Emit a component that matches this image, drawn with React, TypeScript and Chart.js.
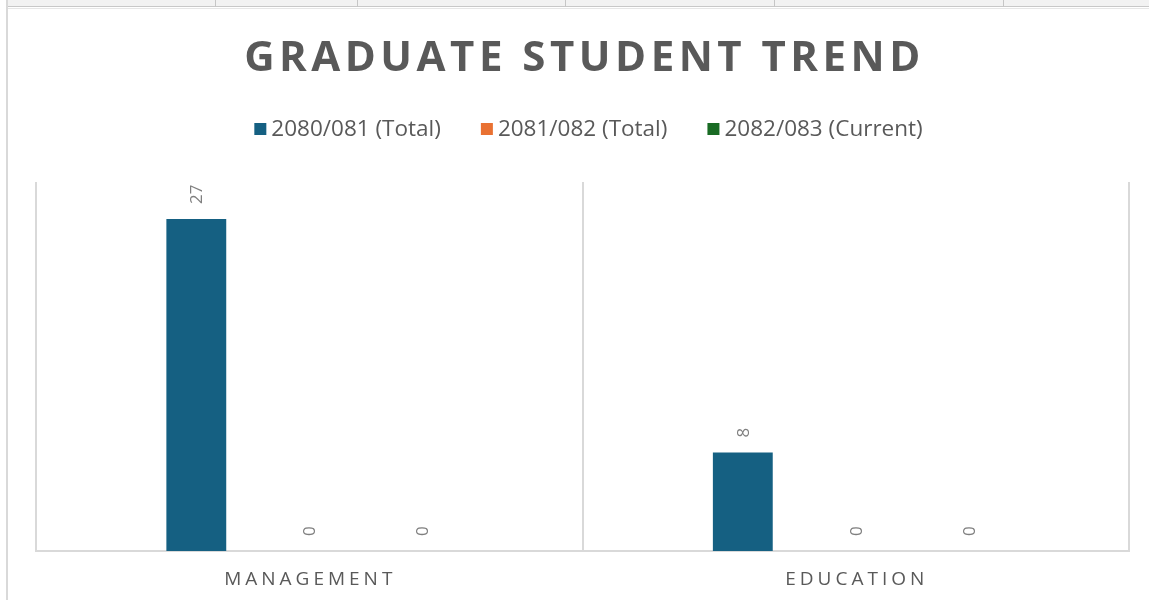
import React, { useEffect, useRef } from "react";
import { Chart, registerables } from "chart.js";

Chart.register(...registerables);

const chartTitle = "GRADUATE STUDENT TREND";
const categories = ["MANAGEMENT", "EDUCATION"];
const seriesLabels = ["2080/081 (Total)", "2081/082 (Total)", "2082/083 (Current)"];
const series2080 = [27, 8];
const series2081 = [0, 0];
const series2082 = [0, 0];
const seriesColors = ["#156082", "#E97132", "#196B24"];
const yMin = 0;
const yMax = 30;

const FONT = "'Open Sans', 'DejaVu Sans', sans-serif";
const TEXT = "#595959";
const LABEL = "#7f7f7f";
const GRID = "#d9d9d9";

const overlayPlugin = {
  id: "overlay",
  afterDraw(chart: any) {
    const ctx = chart.ctx as CanvasRenderingContext2D;
    const area = chart.chartArea;
    const cx = (area.left + area.right) / 2;
    ctx.save();

    // Title (letter-spaced)
    ctx.font = `bold 42px ${FONT}`;
    (ctx as any).letterSpacing = "4.5px";
    ctx.fillStyle = TEXT;
    ctx.textAlign = "center";
    ctx.textBaseline = "middle";
    ctx.fillText(chartTitle, cx + 2, 50);

    // Legend
    (ctx as any).letterSpacing = "0px";
    ctx.font = `22.5px ${FONT}`;
    const box = 12;
    const boxGap = 5;
    const itemGap = 40;
    const ds = chart.data.datasets;
    const widths = ds.map((d: any) => box + boxGap + ctx.measureText(d.label).width);
    const total = widths.reduce((a: number, b: number) => a + b, 0) + itemGap * (ds.length - 1);
    let x = cx + 6 - total / 2;
    const ly = 120;
    ds.forEach((d: any, i: number) => {
      ctx.fillStyle = d.backgroundColor;
      ctx.fillRect(x, ly - box / 2, box, box);
      ctx.fillStyle = TEXT;
      ctx.textAlign = "left";
      ctx.textBaseline = "middle";
      ctx.fillText(d.label, x + box + boxGap, ly + 1);
      x += widths[i] + itemGap;
    });

    // Data labels (rotated)
    ctx.font = `17px ${FONT}`;
    ctx.fillStyle = LABEL;
    ds.forEach((d: any, i: number) => {
      const meta = chart.getDatasetMeta(i);
      meta.data.forEach((bar: any, j: number) => {
        ctx.save();
        ctx.translate(bar.x + 1, bar.y - 15);
        ctx.rotate(-Math.PI / 2);
        ctx.textAlign = "left";
        ctx.textBaseline = "middle";
        ctx.fillText(String(d.data[j]), 0, 0);
        ctx.restore();
      });
    });

    // Category labels (letter-spaced)
    ctx.font = `19px ${FONT}`;
    (ctx as any).letterSpacing = "4px";
    ctx.fillStyle = TEXT;
    ctx.textAlign = "center";
    ctx.textBaseline = "middle";
    const xs = chart.scales.x;
    chart.data.labels.forEach((lab: string, i: number) => {
      ctx.fillText(lab, xs.getPixelForValue(i) + 1, 571);
    });
    ctx.restore();
  },
};

export default function App() {
  const ref = useRef<HTMLCanvasElement | null>(null);

  useEffect(() => {
    document.body.style.margin = "0";
    const canvas = ref.current;
    if (!canvas) return;
    const chart = new Chart(canvas, {
      type: "bar",
      data: {
        labels: categories,
        datasets: [
          { label: seriesLabels[0], data: series2080, backgroundColor: seriesColors[0] },
          { label: seriesLabels[1], data: series2081, backgroundColor: seriesColors[1] },
          { label: seriesLabels[2], data: series2082, backgroundColor: seriesColors[2] },
        ],
      },
      options: {
        responsive: false,
        animation: false,
        devicePixelRatio: 1,
        layout: { padding: { top: 173, left: 28, right: 20, bottom: 49 } },
        datasets: { bar: { barPercentage: 0.53, categoryPercentage: 0.62 } },
        plugins: {
          legend: { display: false },
          title: { display: false },
          tooltip: { enabled: false },
        },
        scales: {
          x: {
            offset: true,
            grid: { display: true, offset: true, color: GRID, lineWidth: 2, drawTicks: false },
            border: { display: true, color: GRID, width: 2 },
            ticks: { display: false },
          },
          y: { display: false, min: yMin, max: yMax },
        },
      },
      plugins: [overlayPlugin],
    });
    return () => chart.destroy();
  }, []);

  const seps = [215, 357, 565, 774, 1003];
  return (
    <div style={{ position: "relative", width: 1149, height: 600, overflow: "hidden", background: "#fff" }}>
      <div style={{ position: "absolute", left: 7, top: 0, width: 1142, height: 6, background: "#f2f2f2", borderBottom: "1px solid #c8c8c8" }} />
      {seps.map((s) => (
        <div key={s} style={{ position: "absolute", left: s, top: 0, width: 1, height: 7, background: "#c6c6c6" }} />
      ))}
      <div style={{ position: "absolute", left: 6, top: 0, width: 2, height: 600, background: "#d9d9d9" }} />
      <div style={{ position: "absolute", left: 8, top: 8, width: 1141, height: 1, background: "#e6e6e6" }} />
      <canvas ref={ref} width={1141} height={591} style={{ position: "absolute", left: 8, top: 9, width: 1141, height: 591 }} />
    </div>
  );
}
